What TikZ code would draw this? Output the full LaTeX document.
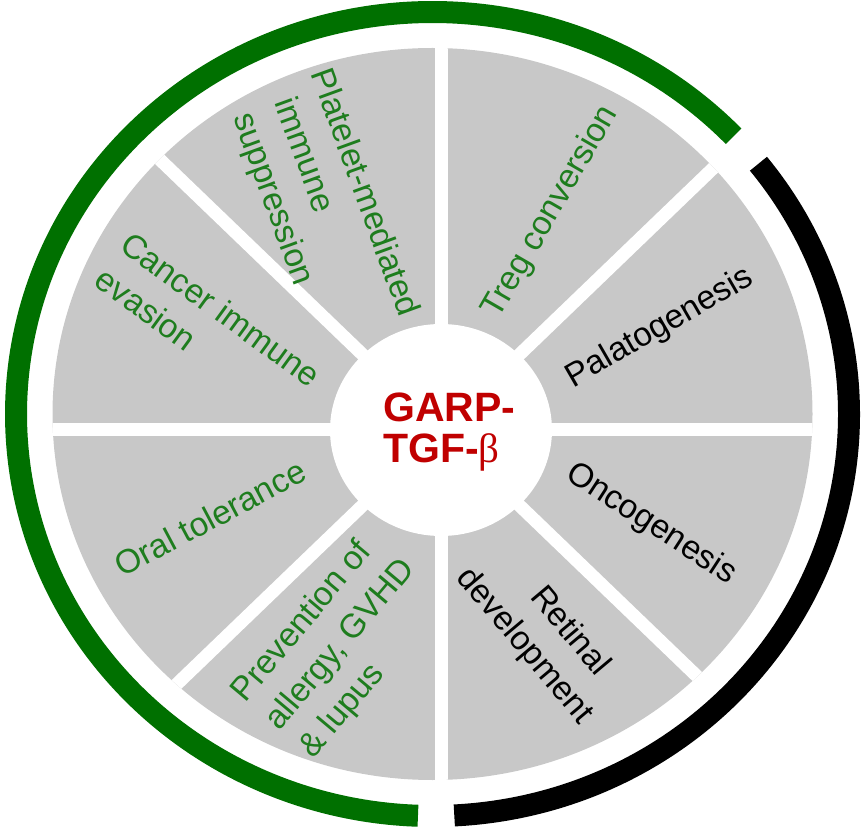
\documentclass[tikz,border=0pt]{standalone}
\usepackage{fontspec}
\setmainfont{Liberation Sans}
\newfontfamily\betafont{Liberation Serif}

\definecolor{wheelgray}{RGB}{200,200,200}
\definecolor{ringgreen}{RGB}{0,112,0}
\definecolor{textgreen}{RGB}{30,125,30}
\definecolor{garpred}{RGB}{192,0,0}

\begin{document}
\begin{tikzpicture}[x=1pt, y=1pt,
    sectortext/.style={font=\fontsize{33.5}{44}\selectfont, inner sep=0pt},
    greentext/.style={sectortext, text=textgreen},
    blacktext/.style={sectortext, text=black},
    gap/.style={white, line width=13pt},
    ring/.style={line width=22pt}]

    \useasboundingbox (0,0) rectangle (865,831);

    % --- Coordinates ---
    \coordinate (c) at (432.5, 417); % middle of wheel and ring
    \coordinate (x) at (441, 401);   % where the white gaps cross

    % --- Wheel ---
    \fill[wheelgray] (c) ellipse [x radius=380, y radius=366];
    \begin{scope}
        \clip (c) ellipse [x radius=380, y radius=366];
        \draw[gap] (x) -- +(420,0) (x) -- +(-420,0);
        \draw[gap] (x) -- +(0,420) (x) -- +(0,-420);
        \draw[gap] (x) -- +(420,404) (x) -- +(-420,-404);
        \draw[gap] (x) -- +(420,-404) (x) -- +(-420,404);
    \end{scope}
    \fill[white] (x) ellipse [x radius=111, y radius=106];

    % --- Outer ring ---
    \draw[ring, ringgreen] ([shift={(43.7:416.5 and 402)}]c)
        arc[start angle=43.7, end angle=268, x radius=416.5, y radius=402];
    \draw[ring, black] ([shift={(-87:416.5 and 402)}]c)
        arc[start angle=-87, end angle=38.5, x radius=416.5, y radius=402];

    % --- Centre ---
    \node[anchor=west, inner sep=0pt, align=left, text=garpred,
        font=\bfseries\fontsize{41}{41}\selectfont] (garp) at (383, 399)
        {GARP-\\TGF-{\betafont\mdseries β}};

    % --- Sectors ---
    \node[greentext, rotate=60] (treg) at (551, 619) {Treg conversion};
    \node[blacktext, rotate=30] (palato) at (660, 503) {Palatogenesis};
    \node[blacktext, rotate=-33] (onco) at (651, 307) {Oncogenesis};
    \node[blacktext, rotate=-50, align=center] (retinal) at (541, 199)
        {\hspace*{36pt}Retinal\\development};
    \node[greentext, rotate=50, align=left] (prevent) at (341, 186)
        {Prevention of\\allergy, GVHD\\\& lupus};
    \node[greentext, rotate=28] (oral) at (210, 313) {Oral tolerance};
    \node[greentext, rotate=-36, align=left] (cancer) at (208, 504)
        {Cancer immune\\evasion};
    \node[greentext, rotate=-70, align=left] (platelet) at (322, 623)
        {Platelet-mediated\\\hspace*{15pt}immune\\\hspace*{15pt}suppression};

\end{tikzpicture}
\end{document}
